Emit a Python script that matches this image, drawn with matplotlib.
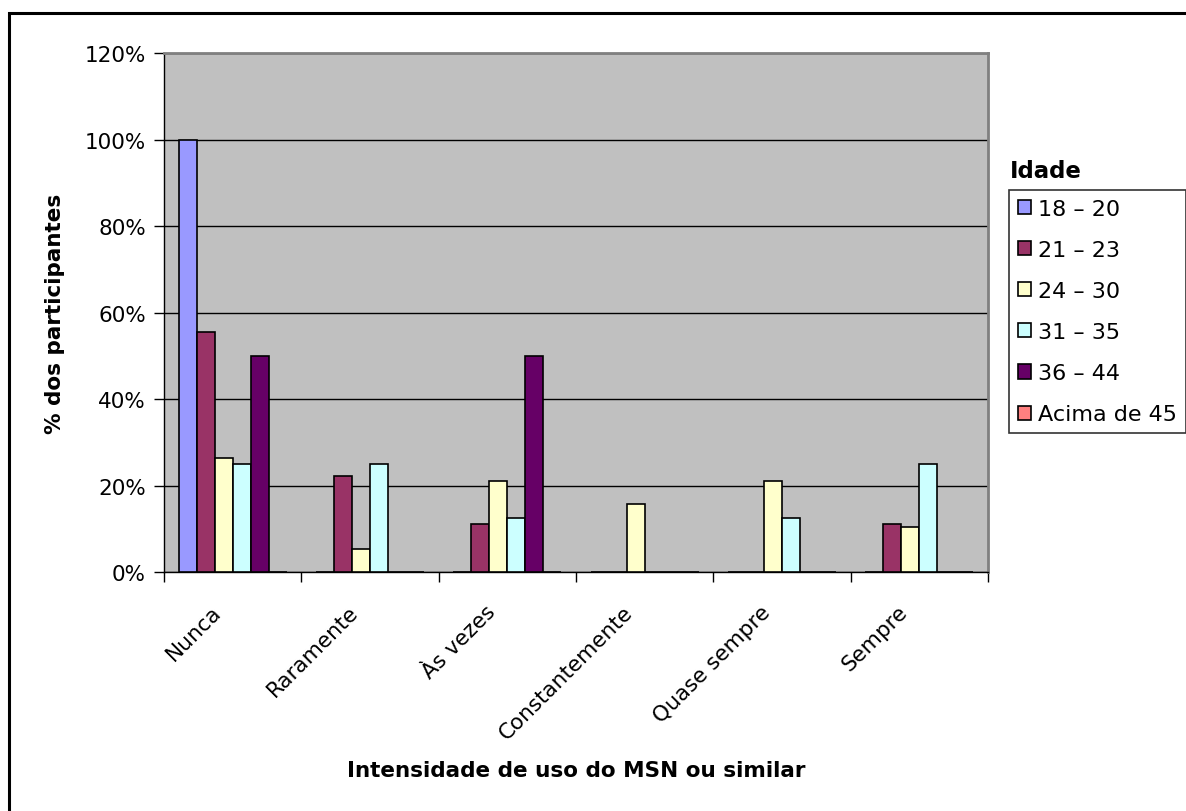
import matplotlib.pyplot as plt
import numpy as np
from matplotlib.patches import Rectangle
from matplotlib.ticker import FixedLocator, PercentFormatter
from matplotlib.transforms import ScaledTranslation

plt.rcParams["font.family"] = ["DejaVu Sans"]

categories = ["Nunca", "Raramente", "Às vezes", "Constantemente", "Quase sempre", "Sempre"]
age_groups = ["18 – 20", "21 – 23", "24 – 30", "31 – 35", "36 – 44", "Acima de 45"]

# % of participants per age group, in category order
pct_18_20 = [100.0, 0.0, 0.0, 0.0, 0.0, 0.0]
pct_21_23 = [55.6, 22.2, 11.1, 0.0, 0.0, 11.1]
pct_24_30 = [26.3, 5.3, 21.1, 15.8, 21.1, 10.5]
pct_31_35 = [25.0, 25.0, 12.5, 0.0, 12.5, 25.0]
pct_36_44 = [50.0, 0.0, 50.0, 0.0, 0.0, 0.0]
pct_45_up = [0.0, 0.0, 0.0, 0.0, 0.0, 0.0]

series = [pct_18_20, pct_21_23, pct_24_30, pct_31_35, pct_36_44, pct_45_up]
colors = ["#9999FF", "#993366", "#FFFFCC", "#CCFFFF", "#660066", "#FF8080"]

fig = plt.figure(figsize=(11.86, 8.12), dpi=100)
ax = fig.add_axes([0.1383, 0.2943, 0.6947, 0.6392])
ax.set_facecolor("#C0C0C0")

x = np.arange(len(categories))
w = 0.131
handles = []
for i, (vals, col) in enumerate(zip(series, colors)):
    b = ax.bar(x + (i - 2.5) * w, vals, width=w, color=col,
               edgecolor="black", linewidth=1.2, zorder=3, label=age_groups[i])
    handles.append(b)

ax.set_xlim(-0.5, len(categories) - 0.5)
ax.set_ylim(0, 120)
ax.yaxis.set_major_locator(FixedLocator(np.arange(0, 121, 20)))
ax.yaxis.set_major_formatter(PercentFormatter(decimals=0))
ax.grid(axis="y", color="black", linewidth=1.0, zorder=1)

ax.set_xticks(x)
ax.set_xticklabels(categories, rotation=45, ha="right", va="top",
                   rotation_mode="anchor", fontsize=15.5)
ax.tick_params(axis="x", which="major", length=0, pad=21)
shift = ScaledTranslation(-0.22, 0, fig.dpi_scale_trans)
for lbl in ax.get_xticklabels():
    lbl.set_transform(lbl.get_transform() + shift)
ax.xaxis.set_minor_locator(FixedLocator(np.arange(-0.5, len(categories), 1.0)))
ax.tick_params(axis="x", which="minor", length=7, width=1.0, direction="out")
ax.tick_params(axis="y", length=7, width=1.0, direction="out", labelsize=15.5, pad=6)

for side in ["top", "right"]:
    ax.spines[side].set_color("#808080")
    ax.spines[side].set_linewidth(2)
for side in ["left", "bottom"]:
    ax.spines[side].set_color("black")
    ax.spines[side].set_linewidth(1.0)

ax.set_ylabel("% dos participantes", fontsize=15.5, fontweight="bold", labelpad=14)
ax.set_xlabel("Intensidade de uso do MSN ou similar", fontsize=15.5,
              fontweight="bold", labelpad=13)

fig.text(1010 / 1186, 1 - 171 / 812, "Idade", fontsize=16.5, fontweight="bold",
         va="center", ha="left")
leg = fig.legend(handles=handles, labels=age_groups, loc="upper left",
                 bbox_to_anchor=(1009 / 1186, 1 - 191 / 812), fontsize=16,
                 frameon=True, fancybox=False, handlelength=0.6, handleheight=0.6,
                 handletextpad=0.3, labelspacing=0.95, borderpad=0.4,
                 borderaxespad=0)
leg.get_frame().set_edgecolor("black")
leg.get_frame().set_linewidth(1.2)

fig.patches.append(Rectangle((9 / 1186, -0.1), 1.2, 1 - 14 / 812 + 0.1,
                             transform=fig.transFigure, fill=False,
                             edgecolor="black", linewidth=2.2))

fig.savefig("out.png", dpi=100)
